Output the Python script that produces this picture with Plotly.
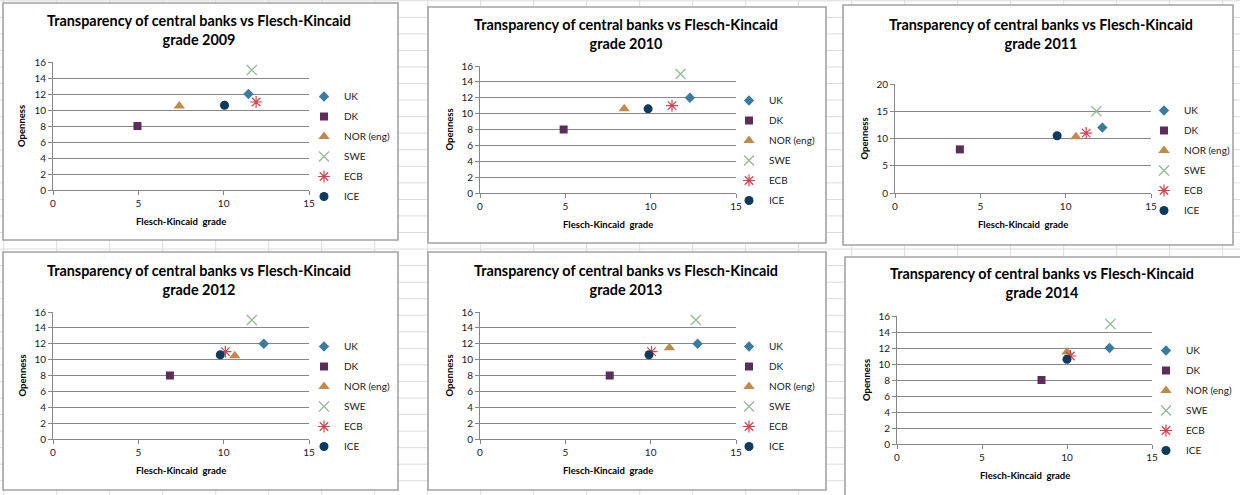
import plotly.graph_objects as go

W, H = 1240, 495

years = [2009, 2010, 2011, 2012, 2013, 2014]
banks = ["UK", "DK", "NOR (eng)", "SWE", "ECB", "ICE"]

# Flesch-Kincaid grade of each bank's texts, in the order of `banks`
grade_2009 = [11.45, 4.95, 7.4, 11.65, 11.9, 10.05]
grade_2010 = [12.3, 4.9, 8.45, 11.75, 11.25, 9.85]
grade_2011 = [12.15, 3.8, 10.6, 11.8, 11.2, 9.5]
grade_2012 = [12.35, 6.85, 10.65, 11.65, 10.1, 9.8]
grade_2013 = [12.75, 7.6, 11.1, 12.65, 10.05, 9.9]
grade_2014 = [12.5, 8.5, 10.0, 12.55, 10.2, 10.0]

# Openness score of each bank, same order
openness_2009 = [12, 8, 10.5, 15, 11, 10.6]
openness_2010 = [12, 8, 10.6, 15, 11, 10.6]
openness_2011 = [12, 8, 10.3, 15, 11, 10.5]
openness_2012 = [12, 8, 10.5, 15, 11, 10.6]
openness_2013 = [12, 8, 11.5, 15, 11, 10.6]
openness_2014 = [12, 8, 11.5, 15, 11, 10.6]

grades = [grade_2009, grade_2010, grade_2011, grade_2012, grade_2013, grade_2014]
openness = [openness_2009, openness_2010, openness_2011, openness_2012,
            openness_2013, openness_2014]

x_ticks = [0, 5, 10, 15]
y_ticks_16 = [0, 2, 4, 6, 8, 10, 12, 14, 16]
y_ticks_20 = [0, 5, 10, 15, 20]
y_ticks = [y_ticks_16, y_ticks_16, y_ticks_20, y_ticks_16, y_ticks_16, y_ticks_16]

# marker look per bank
styles = {
    "UK": dict(symbol="diamond", size=8, color="#3A7CA0"),
    "DK": dict(symbol="square", size=8, color="#5C2C5B"),
    "NOR (eng)": dict(symbol="triangle-up", size=10, color="#C28A4A"),
    "SWE": dict(symbol="x-thin-open", size=10, color="#98B898",
                line=dict(width=1.3, color="#98B898")),
    "ECB": dict(symbol="asterisk-open", size=10, color="#D8404E",
                line=dict(width=1.2, color="#D8404E")),
    "ICE": dict(symbol="circle", size=9, color="#0E3A5E"),
}

# panel layout in pixels: frame box, plot box, title centre, legend origin
panels = [
    dict(frame=(3, 3, 398, 240), plot=(53, 62, 309, 190), tx=199, ty=30, lg=(304, 82)),
    dict(frame=(428, 7, 826, 243), plot=(480, 66, 736, 193), tx=626, ty=34, lg=(729, 86)),
    dict(frame=(843, 5, 1233, 245), plot=(895, 84, 1151, 193), tx=1041, ty=34, lg=(1144, 96)),
    dict(frame=(3, 252, 398, 490), plot=(53, 312, 309, 439), tx=199, ty=280, lg=(304, 332)),
    dict(frame=(428, 252, 826, 490), plot=(480, 312, 736, 439), tx=626, ty=280, lg=(729, 332)),
    dict(frame=(845, 257, 1241, 498), plot=(897, 316, 1152, 444), tx=1042, ty=283, lg=(1146, 336)),
]

FONT = "Lato, 'Open Sans', Arial, sans-serif"
AXIS_GREY = "#878787"

fig = go.Figure()
shapes = []
annotations = []

# spreadsheet cell grid behind the charts
for k in range(0, 25):
    xv = 3.7 + 53.0 * k
    shapes.append(dict(type="line", xref="paper", yref="paper", layer="below",
                       x0=xv / W, x1=xv / W, y0=0, y1=1,
                       line=dict(color="#DADCDE", width=1)))
for k in range(0, 31):
    yv = 0.8 + 16.55 * k
    shapes.append(dict(type="line", xref="paper", yref="paper", layer="below",
                       x0=0, x1=1, y0=1 - yv / H, y1=1 - yv / H,
                       line=dict(color="#DADCDE", width=1)))

for i, (year, p) in enumerate(zip(years, panels)):
    n = i + 1
    xa = "x" if n == 1 else f"x{n}"
    ya = "y" if n == 1 else f"y{n}"
    lg = "legend" if n == 1 else f"legend{n}"
    fx0, fy0, fx1, fy1 = p["frame"]
    px0, py0, px1, py1 = p["plot"]

    shapes.append(dict(type="rect", xref="paper", yref="paper", layer="below",
                       x0=fx0 / W, x1=fx1 / W, y0=1 - fy1 / H, y1=1 - fy0 / H,
                       fillcolor="white", line=dict(color="#A3A3A3", width=1.6)))

    for b, bank in enumerate(banks):
        st = styles[bank]
        fig.add_trace(go.Scatter(
            x=[grades[i][b]], y=[openness[i][b]], mode="markers", name=bank,
            marker=dict(symbol=st["symbol"], size=st["size"], color=st["color"],
                        line=st.get("line", dict(width=0))),
            xaxis=xa, yaxis=ya, legend=lg, legendgroup=f"{year}-{bank}",
            hovertemplate=f"{bank}<br>grade %{{x}}<br>openness %{{y}}<extra></extra>",
        ))

    ax_common = dict(showline=True, linecolor=AXIS_GREY, linewidth=1,
                     ticks="outside", ticklen=4, tickcolor=AXIS_GREY, zeroline=False,
                     tickfont=dict(family=FONT, size=10, color="#1A1A1A"))
    fig.update_layout(**{
        ("xaxis" if n == 1 else f"xaxis{n}"): dict(
            domain=[px0 / W, px1 / W], anchor=ya, range=[0, 15],
            tickvals=x_ticks, showgrid=False, **ax_common),
        ("yaxis" if n == 1 else f"yaxis{n}"): dict(
            domain=[1 - py1 / H, 1 - py0 / H], anchor=xa,
            range=[y_ticks[i][0], y_ticks[i][-1]], tickvals=y_ticks[i],
            showgrid=True, gridcolor=AXIS_GREY, gridwidth=1, **ax_common),
        lg: dict(x=p["lg"][0] / W, y=1 - p["lg"][1] / H, xanchor="left", yanchor="top",
                 bgcolor="rgba(0,0,0,0)", tracegroupgap=1,
                 font=dict(family=FONT, size=10, color="#1A1A1A")),
    })

    annotations.append(dict(
        xref="paper", yref="paper", x=p["tx"] / W, y=1 - p["ty"] / H,
        text=f"<b>Transparency of central banks vs Flesch-Kincaid<br>grade {year}</b>",
        showarrow=False, xanchor="center", yanchor="middle", align="center",
        font=dict(family=FONT, size=14.4, color="#000000")))
    annotations.append(dict(
        xref="paper", yref="paper", x=(px0 + px1) / 2 / W, y=1 - (py1 + 31) / H,
        text="<b>Flesch-Kincaid  grade</b>", showarrow=False,
        xanchor="center", yanchor="middle",
        font=dict(family=FONT, size=9.5, color="#000000")))
    annotations.append(dict(
        xref="paper", yref="paper", x=(px0 - 31) / W, y=1 - (py0 + py1) / 2 / H,
        text="<b>Openness</b>", showarrow=False, textangle=-90,
        xanchor="center", yanchor="middle",
        font=dict(family=FONT, size=9.5, color="#000000")))

fig.update_layout(
    width=W, height=H,
    margin=dict(l=0, r=0, t=0, b=0, autoexpand=False),
    paper_bgcolor="white",
    plot_bgcolor="rgba(0,0,0,0)",
    shapes=shapes,
    annotations=annotations,
    showlegend=True,
)

# the page body gets no default margin so the figure fills the window exactly
fig.write_html("out.html", post_script="document.body.style.margin='0';")
